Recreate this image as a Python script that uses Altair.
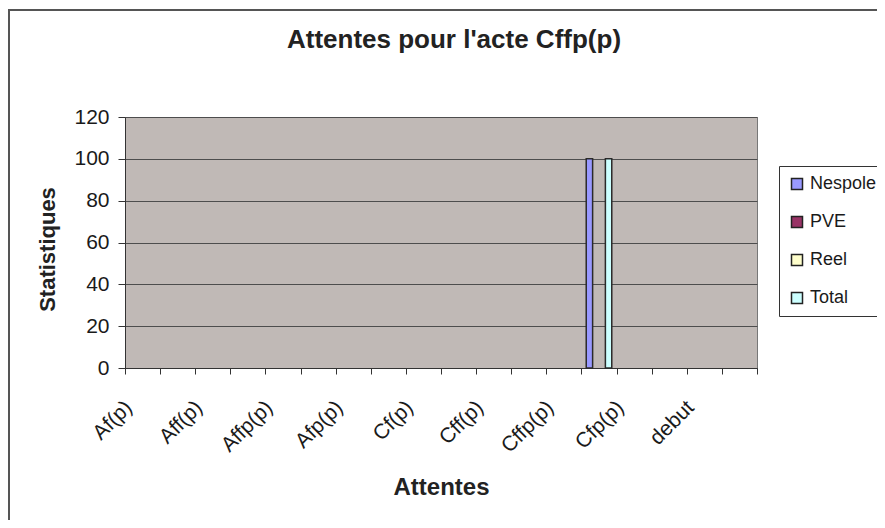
import altair as alt
import pandas as pd

# categories (every other label is shown, as in the original)
categories = ["Af(p)", "Afc(p)", "Aff(p)", "Affc(p)", "Affp(p)", "Affpc(p)",
              "Afp(p)", "Afpc(p)", "Cf(p)", "Cfc(p)", "Cff(p)", "Cffc(p)",
              "Cffp(p)", "Cffpc(p)", "Cfp(p)", "Cfpc(p)", "debut", "fin"]
shown_labels = ["Af(p)", "Aff(p)", "Affp(p)", "Afp(p)", "Cf(p)", "Cff(p)",
                "Cffp(p)", "Cfp(p)", "debut"]
series = ["Nespole", "PVE", "Reel", "Total"]
colors = ["#9999FF", "#993366", "#FFFFCC", "#CCFFFF"]

nespole = [0, 0, 0, 0, 0, 0, 0, 0, 0, 0, 0, 0, 0, 100, 0, 0, 0, 0]
pve     = [0, 0, 0, 0, 0, 0, 0, 0, 0, 0, 0, 0, 0, 0, 0, 0, 0, 0]
reel    = [0, 0, 0, 0, 0, 0, 0, 0, 0, 0, 0, 0, 0, 0, 0, 0, 0, 0]
total   = [0, 0, 0, 0, 0, 0, 0, 0, 0, 0, 0, 0, 0, 100, 0, 0, 0, 0]

rows = []
for name, vals in zip(series, [nespole, pve, reel, total]):
    for c, v in zip(categories, vals):
        rows.append({"attente": c, "serie": name, "valeur": v})
df = pd.DataFrame(rows)

FONT = "Liberation Sans"
label_list = "[" + ",".join("'" + s + "'" for s in shown_labels) + "]"

bars = alt.Chart(df).transform_filter("datum.valeur > 0").mark_bar(
    stroke="#2a2a2a", strokeWidth=1.5
).encode(
    x=alt.X("attente:N", sort=categories,
            scale=alt.Scale(domain=categories, paddingInner=0, paddingOuter=0),
            axis=alt.Axis(title="Attentes", tickBand="extent",
                          labelExpr="indexof(" + label_list + ", datum.value) >= 0 ? datum.value : ''",
                          labelAngle=-45, labelAlign="right", labelBaseline="middle",
                          labelPadding=30, labelOffset=-14, tickSize=6,
                          titleFontSize=24, titleY=126, titleBaseline="alphabetic")),
    xOffset=alt.XOffset("serie:N", sort=series,
                        scale=alt.Scale(domain=series, paddingInner=0, paddingOuter=0.75)),
    y=alt.Y("valeur:Q", scale=alt.Scale(domain=[0, 120], nice=False),
            axis=alt.Axis(title="Statistiques", values=[0, 20, 40, 60, 80, 100, 120],
                          tickSize=7, labelPadding=9, grid=True,
                          titleX=-71, titleY=132, titleBaseline="alphabetic")),
    color=alt.Color("serie:N", sort=series,
                    scale=alt.Scale(domain=series, range=colors),
                    legend=alt.Legend(title=None, orient="none", legendX=654, legendY=49,
                                      strokeColor="#333", fillColor="white", padding=9,
                                      symbolType="square", symbolSize=121,
                                      symbolStrokeColor="#222", symbolStrokeWidth=1.5,
                                      labelFontSize=18, labelFont=FONT, labelColor="#1a1a1a",
                                      rowPadding=20, labelOffset=4)),
)

frame = alt.Chart(pd.DataFrame({"f": [0]})).mark_rect(
    fill=None, stroke="#555", strokeWidth=2
).encode(
    x=alt.value(-116), x2=alt.value(900), y=alt.value(-107), y2=alt.value(500)
)

chart = alt.layer(frame, bars).properties(
    width=632, height=251,
    autosize=alt.AutoSizeParams(type="none"),
    padding={"left": 117, "top": 109, "right": 120, "bottom": 152},
    background="white",
    title=alt.TitleParams("Attentes pour l'acte Cffp(p)", font=FONT, fontSize=26,
                          fontWeight="bold", color="#222", anchor="middle",
                          frame="group", baseline="alphabetic", offset=-65, dx=13),
).configure_view(
    fill="#C0B9B6", stroke="#777", strokeWidth=1
).configure_axis(
    labelFont=FONT, labelFontSize=21, labelColor="#1a1a1a",
    titleFont=FONT, titleFontSize=22, titleFontWeight="bold", titleColor="#222",
    domainColor="#333", tickColor="#333", gridColor="#4d4d4d", gridWidth=1,
)

chart.save("out.html", embed_options={"renderer": "svg", "actions": False})
